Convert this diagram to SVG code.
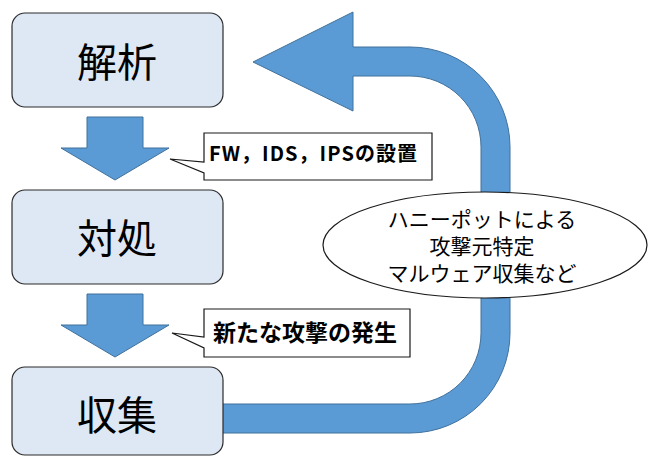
<svg xmlns="http://www.w3.org/2000/svg" width="651" height="456" viewBox="0 0 651 456">
<style>
.box{fill:#dee8f5;stroke:#2b2b2b;stroke-width:1.2}
.arrow{fill:#5b9bd5;stroke:#41719c;stroke-width:1}
.call{fill:#ffffff;stroke:#1a1a1a;stroke-width:1.2}
.big{font-family:"Noto Sans CJK JP","Noto Sans",sans-serif;font-size:40px;fill:#000;text-anchor:middle}
.ctext{font-family:"Noto Sans CJK JP","Noto Sans",sans-serif;font-weight:bold;fill:#000}
.etext{font-family:"Noto Sans CJK JP","Noto Sans",sans-serif;font-size:21px;fill:#000;text-anchor:middle}
</style>
<rect width="651" height="456" fill="#ffffff"/>
<g id="connectors">
  <path class="arrow" d="M253,62 L353,12 L353,47 L410,47 A100,100 0 0 1 510,147 L510,333 A100,100 0 0 1 410,433 L222,433 L222,404 L410,404 A71,71 0 0 0 481,333 L481,147 A71,71 0 0 0 410,76 L353,76 L353,111 Z"/>
  <path class="arrow" d="M87,117 H143 V148 H169 L115,180 L61,148 H87 Z"/>
  <path class="arrow" d="M87,294 H143 V325 H169 L115,357 L61,325 H87 Z"/>
</g>
<g id="node-analysis">
  <rect class="box" x="12" y="13" width="211" height="94" rx="13"/>
  <text class="big" x="117" y="77">解析</text>
</g>
<g id="node-response">
  <rect class="box" x="12" y="190" width="211" height="94" rx="13"/>
  <text class="big" x="117" y="253">対処</text>
</g>
<g id="node-collect">
  <rect class="box" x="12" y="367" width="211" height="88" rx="13"/>
  <text class="big" x="117" y="430">収集</text>
</g>
<g id="callout-fw">
  <path class="call" d="M204,133 H432 V180 H204 V173 L170,159 L204,162 Z"/>
  <text class="ctext" x="209" y="161" font-size="20" textLength="208" lengthAdjust="spacing">FW，IDS，IPSの設置</text>
</g>
<g id="callout-attack">
  <path class="call" d="M204,309 H410 V357 H204 V348 L172,333 L204,337 Z"/>
  <text class="ctext" x="213" y="341" font-size="23">新たな攻撃の発生</text>
</g>
<g id="note-honeypot">
  <ellipse cx="485" cy="245" rx="162" ry="53" fill="#ffffff" stroke="#1a1a1a" stroke-width="1.2"/>
  <text class="etext" x="482" y="227">ハニーポットによる</text>
  <text class="etext" x="482" y="254">攻撃元特定</text>
  <text class="etext" x="482" y="281">マルウェア収集など</text>
</g>
</svg>
